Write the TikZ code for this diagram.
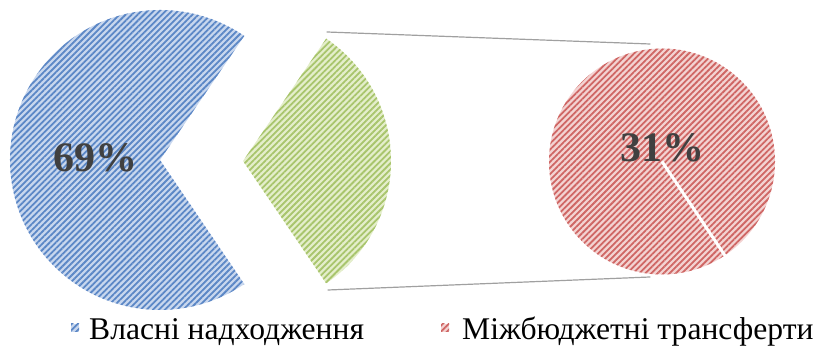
\documentclass[tikz,border=0pt]{standalone}
\usepackage{fontspec}
\setmainfont{Liberation Serif}
\usepackage{tikz}
\usetikzlibrary{patterns.meta}
\definecolor{blueback}{HTML}{C8D7EE}
\definecolor{bluestripe}{HTML}{5B87C6}
\definecolor{greenback}{HTML}{E4EECB}
\definecolor{greenstripe}{HTML}{A8C56C}
\definecolor{redback}{HTML}{F3D3D2}
\definecolor{redstripe}{HTML}{CF6664}
\definecolor{labelgray}{HTML}{404040}
\definecolor{linkgray}{HTML}{A0A0A0}

\begin{document}
\begin{tikzpicture}[line cap=round,line join=round,x=1pt,y=1pt,
  bluepart/.style={fill=blueback,postaction={pattern={Lines[angle=45,distance=4.3pt,line width=1.8pt]},pattern color=bluestripe}},
  greenpart/.style={fill=greenback,postaction={pattern={Lines[angle=45,distance=4.3pt,line width=1.8pt]},pattern color=greenstripe}},
  redpart/.style={fill=redback,postaction={pattern={Lines[angle=45,distance=4.3pt,line width=1.8pt]},pattern color=redstripe}},
  pct/.style={font=\fontsize{42}{42}\selectfont\bfseries,text=labelgray,inner sep=0pt},
  legtext/.style={font=\fontsize{31.6}{32}\selectfont,anchor=base west,inner sep=0pt},
  link/.style={draw=linkgray,line width=1.2pt}]
\useasboundingbox (0,0) rectangle (820,347);
% primary pie
\coordinate (bluec) at (160,187);
\coordinate (greenc) at (243,186);
\coordinate (redc) at (662,185.5);
\fill[bluepart] (bluec) -- ++(55.8:150) arc (55.8:304.2:150) -- cycle;
\fill[greenpart] (greenc) -- ++(-55.8:148) arc (-55.8:55.8:148) -- cycle;
% secondary pie
\fill[redpart] (redc) circle (113);
\draw[white,line width=3pt,line cap=butt] (redc) -- ++(-56.2:113.5);
% links
\coordinate (greentop) at (327,315);
\coordinate (greenbot) at (328,57);
\coordinate (redtop) at (650,303);
\coordinate (redbot) at (650,70);
\draw[link] (greentop) -- (redtop);
\draw[link] (greenbot) -- (redbot);
% labels
\node[pct] (bluelabel) at (95,189) {69\%};
\node[pct] (redlabel) at (662,199) {31\%};
% legend
\fill[bluepart] (71,15) rectangle (79,23);
\node[legtext] (blueleg) at (89,7.5) {Власні надходження};
\fill[redpart] (441,15) rectangle (449,23);
\node[legtext] (redleg) at (462,7.5) {Міжбюджетні трансферти};
\end{tikzpicture}
\end{document}
